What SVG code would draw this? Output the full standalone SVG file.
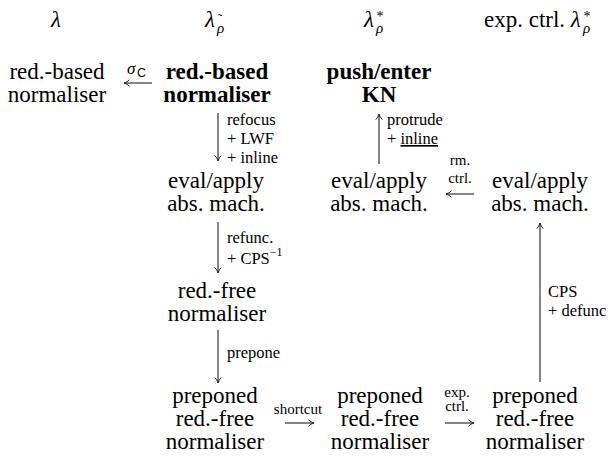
<svg xmlns="http://www.w3.org/2000/svg" width="612" height="465" viewBox="0 0 612 465">
<style>
.n{font-size:23px;text-anchor:middle}
.b{font-weight:bold}
.h{font-size:23px}
.m{font-style:italic}
.l{font-size:16.5px}
.s{font-size:15px;text-anchor:middle}
.c{stroke:#222;stroke-width:1.1;fill:none}
</style>
<defs>
<marker id="ah" viewBox="0 0 8 8" refX="7" refY="4" markerWidth="8" markerHeight="8" markerUnits="userSpaceOnUse" orient="auto">
<path d="M1.5,0.8 Q4,3.2 7,4 Q4,4.8 1.5,7.2" stroke="#222" stroke-width="1" fill="none"/>
</marker>
</defs>
<g font-family="Liberation Serif, serif" fill="#000">
<g id="headers">
<text class="h m" x="51" y="27">λ</text>
<text class="h"><tspan class="m" x="205" y="27">λ</tspan><tspan class="m" x="217" y="33" font-size="15">ρ</tspan><tspan x="218" y="23" font-size="13">˜</tspan></text>
<text class="h"><tspan class="m" x="364" y="27">λ</tspan><tspan x="376.5" y="21" font-size="14">*</tspan><tspan class="m" x="376" y="33" font-size="15">ρ</tspan></text>
<text class="h"><tspan x="484" y="27">exp. ctrl. </tspan><tspan class="m">λ</tspan><tspan x="583.5" y="21" font-size="14">*</tspan><tspan class="m" x="583" y="33" font-size="15">ρ</tspan></text>
</g>
<g id="n_lambda_rb">
<text class="n" x="57" y="79">red.-based</text>
<text class="n" x="57" y="102">normaliser</text>
</g>
<g id="n_rb">
<text class="n b" x="217" y="79">red.-based</text>
<text class="n b" x="217" y="102">normaliser</text>
</g>
<g id="n_kn">
<text class="n b" x="379" y="79">push/enter</text>
<text class="n b" x="379" y="102">KN</text>
</g>
<g id="n_ea1">
<text class="n" x="216" y="188">eval/apply</text>
<text class="n" x="216" y="211">abs. mach.</text>
</g>
<g id="n_ea2">
<text class="n" x="379" y="188">eval/apply</text>
<text class="n" x="379" y="211">abs. mach.</text>
</g>
<g id="n_ea3">
<text class="n" x="540" y="188">eval/apply</text>
<text class="n" x="540" y="211">abs. mach.</text>
</g>
<g id="n_rf">
<text class="n" x="217" y="298">red.-free</text>
<text class="n" x="217" y="321">normaliser</text>
</g>
<g id="n_p1">
<text class="n" x="215" y="403">preponed</text>
<text class="n" x="215" y="426">red.-free</text>
<text class="n" x="215" y="449">normaliser</text>
</g>
<g id="n_p2">
<text class="n" x="380" y="403">preponed</text>
<text class="n" x="380" y="426">red.-free</text>
<text class="n" x="380" y="449">normaliser</text>
</g>
<g id="n_p3">
<text class="n" x="535" y="403">preponed</text>
<text class="n" x="535" y="426">red.-free</text>
<text class="n" x="535" y="449">normaliser</text>
</g>
<g id="connectors">
<line class="c" x1="152" y1="83" x2="124" y2="83" marker-end="url(#ah)"/>
<text><tspan class="m" x="127" y="74" font-size="17">σ</tspan><tspan x="137" y="77" font-size="12.5" font-family="Liberation Sans, sans-serif">C</tspan></text>
<line class="c" x1="218" y1="113" x2="218" y2="161" marker-end="url(#ah)"/>
<text class="l" x="227" y="125">refocus</text>
<text class="l" x="227" y="144">+ LWF</text>
<text class="l" x="227" y="163">+ inline</text>
<line class="c" x1="379" y1="164" x2="379" y2="114" marker-end="url(#ah)"/>
<text class="l" x="387" y="125">protrude</text>
<text class="l" x="387" y="144">+ <tspan text-decoration="underline">inline</tspan></text>
<line class="c" x1="474" y1="194" x2="446" y2="194" marker-end="url(#ah)"/>
<text class="s" x="460" y="165">rm.</text>
<text class="s" x="460" y="183">ctrl.</text>
<line class="c" x1="218" y1="222" x2="218" y2="273" marker-end="url(#ah)"/>
<text class="l" x="227" y="243">refunc.</text>
<text class="l" x="227" y="264">+ CPS<tspan font-size="12" dy="-8">−1</tspan></text>
<line class="c" x1="218" y1="330" x2="218" y2="383" marker-end="url(#ah)"/>
<text class="l" x="227" y="358">prepone</text>
<line class="c" x1="285" y1="423" x2="314" y2="423" marker-end="url(#ah)"/>
<text class="s" x="298" y="414">shortcut</text>
<line class="c" x1="445" y1="423" x2="474" y2="423" marker-end="url(#ah)"/>
<text class="s" x="457" y="397">exp.</text>
<text class="s" x="457" y="411">ctrl.</text>
<line class="c" x1="540" y1="382" x2="540" y2="223" marker-end="url(#ah)"/>
<text class="l" x="548" y="297">CPS</text>
<text class="l" x="548" y="316">+ defunc</text>
</g>
</g>
</svg>
